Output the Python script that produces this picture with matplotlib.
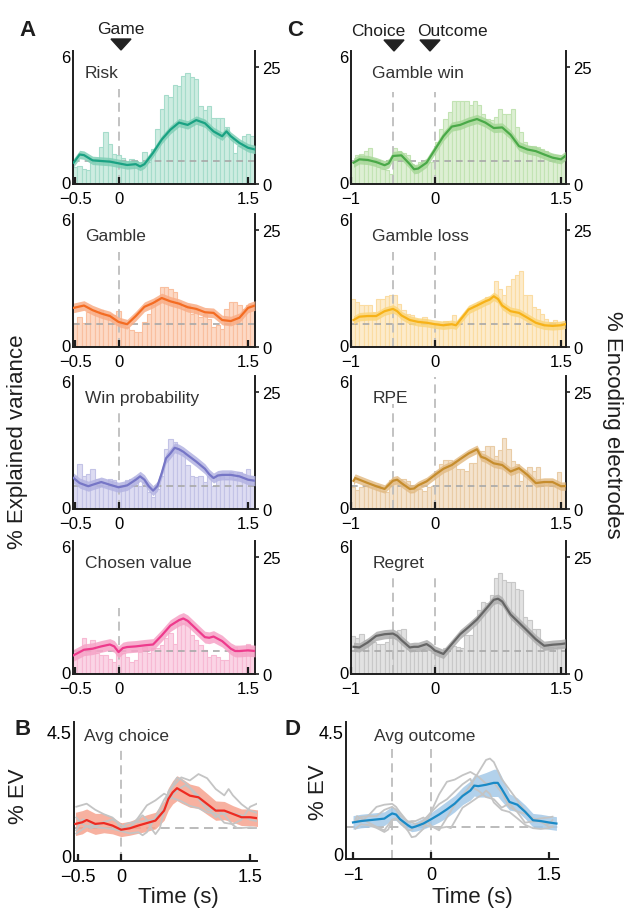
import numpy as np
import matplotlib.pyplot as plt
from matplotlib.patches import Polygon

plt.rcParams['font.family'] = ['Liberation Sans', 'DejaVu Sans']

W, H = 626, 912

# bin centres (s) of the electrode histograms
bins_a = np.round(-0.5 + 0.05 * np.arange(42), 3)
bins_c = np.round(-0.975 + 0.05 * np.arange(51), 3)

# ---- A: game-locked ----
risk_pct = [3.6, 3.9, 3.2, 3.0, 4.6, 5.3, 7.8, 11.0, 8.5, 6.4, 6.1, 5.5, 5.0, 5.3, 5.0, 4.8, 6.9, 4.6, 7.5, 11.8,
            16.0, 18.9, 18.5, 21.2, 21.0, 23.0, 23.7, 22.8, 22.4, 16.7, 15.7, 16.7, 14.2, 14.2, 14.0, 12.1, 9.6, 6.6,
            8.2, 10.3, 10.7, 10.3]
risk_t = [-0.52, -0.45, -0.4, -0.3, -0.2, -0.1, 0, 0.1, 0.2, 0.25, 0.3, 0.4, 0.5, 0.6, 0.7, 0.8, 0.9, 1.0, 1.1,
          1.2, 1.25, 1.3, 1.4, 1.5, 1.58]
risk_ev = [0.92, 1.31, 1.28, 1.03, 1.0, 0.97, 0.89, 0.81, 0.85, 0.74, 0.85, 1.39, 2.02, 2.49, 2.83, 2.72, 2.95,
           2.80, 2.41, 2.18, 2.41, 2.18, 1.86, 1.63, 1.55]

gamble_pct = [5.2, 6.4, 5.2, 7.5, 7.8, 7.5, 7.8, 6.8, 7.1, 6.8, 7.6, 4.6, 4.3, 3.6, 3.2, 3.2, 5.3, 7.1, 8.9, 10.3,
              12.8, 12.8, 12.4, 11.7, 9.6, 8.2, 8.9, 7.1, 7.8, 6.4, 7.1, 6.0, 4.3, 4.6, 3.9, 8.2, 9.6, 9.6, 8.9,
              8.2, 8.9, 9.2]
gamble_t = [-0.52, -0.4, -0.3, -0.2, -0.1, 0, 0.1, 0.2, 0.3, 0.4, 0.5, 0.6, 0.7, 0.8, 0.9, 1.0, 1.1, 1.2, 1.3,
            1.4, 1.5, 1.58]
gamble_ev = [1.77, 1.88, 1.66, 1.50, 1.38, 1.10, 0.99, 1.38, 1.82, 2.00, 2.24, 2.08, 1.97, 1.80, 1.72, 1.56, 1.53,
             1.19, 1.14, 1.30, 1.77, 1.88]

winp_pct = [7.1, 9.6, 7.1, 7.5, 8.6, 6.4, 5.7, 5.0, 6.4, 6.1, 5.0, 4.6, 6.1, 6.4, 6.8, 5.0, 5.7, 3.6, 2.5, 4.3,
            7.1, 12.9, 15.0, 14.3, 12.9, 11.8, 9.3, 7.1, 6.8, 7.1, 5.7, 7.1, 5.0, 7.5, 7.1, 6.4, 7.9, 6.4, 7.9,
            7.5, 8.6, 7.1]
winp_t = [-0.52, -0.45, -0.35, -0.3, -0.2, -0.1, 0, 0.1, 0.2, 0.25, 0.3, 0.35, 0.4, 0.45, 0.5, 0.55, 0.6, 0.65,
          0.7, 0.75, 0.8, 0.9, 1.0, 1.05, 1.1, 1.15, 1.2, 1.3, 1.4, 1.5, 1.58]
winp_ev = [1.38, 1.14, 0.99, 1.06, 1.19, 1.06, 0.94, 1.03, 1.30, 1.46, 1.30, 0.99, 0.78, 0.99, 1.61, 2.32, 2.55,
           2.82, 2.75, 2.63, 2.47, 2.16, 1.82, 1.56, 1.38, 1.50, 1.53, 1.53, 1.46, 1.30, 1.25]

chosen_pct = [4.1, 4.8, 7.6, 5.5, 7.2, 4.4, 4.1, 4.1, 3.3, 2.6, 5.5, 4.4, 3.7, 2.6, 3.0, 4.8, 5.8, 4.4, 5.5, 5.5,
              6.2, 7.6, 8.7, 6.5, 11.5, 10.8, 11.5, 8.3, 7.2, 6.2, 5.1, 3.7, 4.1, 3.7, 3.0, 3.0, 4.8, 5.8, 4.8,
              4.4, 6.5, 5.8]
chosen_t = [-0.52, -0.45, -0.4, -0.3, -0.2, -0.1, -0.05, 0, 0.05, 0.1, 0.2, 0.3, 0.4, 0.5, 0.6, 0.7, 0.75, 0.8,
            0.9, 1.0, 1.05, 1.1, 1.2, 1.3, 1.35, 1.4, 1.5, 1.58]
chosen_ev = [0.80, 0.95, 1.06, 1.11, 1.22, 1.31, 1.22, 0.95, 1.14, 1.19, 1.22, 1.27, 1.31, 1.74, 2.21, 2.47, 2.55,
             2.44, 2.05, 1.66, 1.63, 1.69, 1.47, 1.11, 1.00, 1.00, 1.03, 1.00]

# ---- C: choice / outcome-locked ----
gwin_pct = [4.6, 6.1, 6.4, 7.1, 7.6, 5.4, 3.6, 3.2, 2.9, 2.1, 7.6, 7.1, 6.6, 6.1, 4.3, 3.9, 4.6, 4.3, 4.6, 4.6,
            8.9, 11.8, 13.9, 15.4, 17.7, 17.7, 17.7, 17.7, 16.8, 17.7, 16.8, 15.0, 13.9, 13.6, 14.3, 16.1, 15.0,
            15.0, 16.1, 12.1, 11.1, 8.9, 8.2, 8.2, 7.9, 7.5, 7.1, 6.4, 6.1, 6.1, 5.7]
gwin_t = [-0.97, -0.9, -0.8, -0.7, -0.6, -0.55, -0.5, -0.4, -0.3, -0.25, -0.2, -0.1, 0, 0.1, 0.2, 0.3, 0.4, 0.5,
          0.6, 0.7, 0.8, 0.9, 1.0, 1.1, 1.2, 1.3, 1.4, 1.5, 1.55]
gwin_ev = [0.92, 1.08, 1.05, 0.95, 0.80, 0.89, 1.24, 1.27, 0.85, 0.61, 0.64, 0.92, 1.55, 2.18, 2.64, 2.72, 2.88,
           3.00, 2.83, 2.57, 2.60, 2.25, 1.71, 1.55, 1.47, 1.31, 1.16, 1.08, 1.24]

gloss_pct = [10.2, 9.6, 8.9, 9.0, 8.9, 7.5, 10.3, 10.3, 10.9, 11.0, 11.0, 9.2, 7.8, 7.1, 6.8, 6.0, 5.7, 6.4, 5.3,
             5.0, 5.2, 5.0, 5.5, 5.2, 6.9, 5.0, 6.4, 7.1, 8.2, 8.9, 9.6, 9.9, 10.7, 10.3, 14.2, 12.4, 11.0, 13.1,
             14.6, 15.3, 16.3, 11.0, 11.0, 8.5, 8.2, 7.1, 6.0, 5.3, 5.7, 5.0, 5.2]
gloss_t = [-0.97, -0.9, -0.8, -0.7, -0.6, -0.5, -0.45, -0.4, -0.3, -0.2, -0.1, 0, 0.1, 0.2, 0.25, 0.3, 0.4, 0.5,
           0.6, 0.65, 0.7, 0.75, 0.8, 0.9, 1.0, 1.1, 1.2, 1.3, 1.4, 1.5, 1.55]
gloss_ev = [1.19, 1.35, 1.38, 1.38, 1.61, 1.72, 1.61, 1.41, 1.19, 1.10, 1.06, 0.99, 0.94, 0.99, 0.94, 1.19, 1.69,
            1.88, 2.08, 2.16, 2.32, 2.19, 1.88, 1.61, 1.53, 1.30, 1.06, 0.94, 0.91, 0.94, 0.99]

rpe_pct = [4.6, 4.1, 4.8, 5.0, 4.8, 4.8, 4.6, 3.8, 3.6, 6.2, 6.4, 6.2, 6.4, 6.0, 3.6, 4.3, 4.3, 3.9, 4.8, 5.0,
           8.2, 9.6, 10.4, 10.4, 10.2, 8.5, 8.5, 8.2, 9.9, 9.9, 12.4, 12.4, 13.5, 13.5, 11.4, 12.6, 15.1, 12.8,
           10.3, 9.6, 6.0, 7.5, 8.9, 8.2, 8.9, 6.0, 5.2, 5.5, 5.2, 7.8, 5.2]
rpe_t = [-0.97, -0.95, -0.9, -0.8, -0.7, -0.6, -0.55, -0.5, -0.45, -0.4, -0.3, -0.25, -0.2, -0.1, 0, 0.1, 0.2,
         0.3, 0.4, 0.5, 0.55, 0.6, 0.7, 0.8, 0.9, 1.0, 1.1, 1.2, 1.3, 1.4, 1.5, 1.55]
rpe_ev = [1.25, 1.38, 1.30, 1.14, 0.99, 0.86, 1.06, 1.25, 1.30, 1.14, 0.86, 0.88, 1.03, 1.22, 1.53, 1.82, 2.00,
          2.28, 2.55, 2.75, 2.39, 2.32, 2.08, 2.00, 1.69, 1.85, 1.53, 1.14, 1.19, 1.19, 0.99, 1.0]

regret_pct = [8.1, 7.6, 8.5, 7.2, 7.1, 6.9, 6.5, 6.4, 6.9, 8.3, 8.1, 9.4, 9.7, 5.5, 5.1, 5.0, 5.0, 5.3, 5.1, 4.5,
              4.4, 4.4, 5.5, 5.5, 6.0, 5.8, 5.5, 8.3, 8.3, 11.5, 13.6, 15.4, 15.2, 16.8, 20.6, 21.6, 20.0, 19.6,
              19.6, 18.2, 17.9, 12.2, 11.5, 9.7, 9.7, 5.8, 6.0, 5.7, 5.5, 5.8, 5.8]
regret_t = [-0.97, -0.9, -0.8, -0.7, -0.6, -0.5, -0.45, -0.4, -0.3, -0.25, -0.2, -0.1, -0.05, 0, 0.1, 0.2, 0.3,
            0.4, 0.5, 0.6, 0.7, 0.75, 0.8, 0.9, 1.0, 1.1, 1.2, 1.3, 1.4, 1.5, 1.55]
regret_ev = [1.20, 1.17, 1.41, 1.72, 1.80, 1.83, 1.72, 1.52, 1.17, 1.20, 1.20, 1.33, 1.20, 1.02, 0.86, 1.33, 1.80,
             2.14, 2.50, 2.97, 3.44, 3.49, 3.36, 2.74, 2.35, 1.96, 1.56, 1.25, 1.30, 1.33, 1.36]

# ---- B / D: averages ----
avgc_t = [-0.53, -0.45, -0.4, -0.3, -0.2, -0.1, 0, 0.1, 0.2, 0.3, 0.4, 0.5, 0.55, 0.6, 0.65, 0.7, 0.8, 0.9, 1.0,
          1.1, 1.2, 1.3, 1.4, 1.5, 1.6]
avgc_ev = [1.15, 1.21, 1.29, 1.15, 1.18, 1.09, 0.94, 0.99, 1.09, 1.18, 1.27, 1.63, 2.05, 2.29, 2.44, 2.35, 2.17,
           2.11, 1.87, 1.63, 1.63, 1.51, 1.39, 1.39, 1.35]
avgc_err = [0.42, 0.42, 0.4, 0.38, 0.35, 0.3, 0.25, 0.25, 0.28, 0.3, 0.3, 0.35, 0.4, 0.42, 0.45, 0.45, 0.42, 0.4,
            0.38, 0.35, 0.33, 0.3, 0.3, 0.3, 0.3]

avgo_t = [-1.0, -0.9, -0.8, -0.7, -0.6, -0.55, -0.5, -0.45, -0.4, -0.3, -0.25, -0.2, -0.1, 0, 0.1, 0.2, 0.3, 0.4,
          0.5, 0.55, 0.6, 0.7, 0.8, 0.85, 0.9, 1.0, 1.1, 1.2, 1.3, 1.4, 1.5, 1.6]
avgo_ev = [1.15, 1.20, 1.23, 1.26, 1.29, 1.39, 1.48, 1.44, 1.27, 1.05, 0.96, 1.00, 1.11, 1.27, 1.44, 1.63, 1.84,
           2.12, 2.32, 2.50, 2.48, 2.53, 2.60, 2.60, 2.38, 1.90, 1.80, 1.54, 1.23, 1.20, 1.15, 1.11]
avgo_err = [0.25, 0.25, 0.25, 0.25, 0.25, 0.25, 0.25, 0.22, 0.2, 0.17, 0.15, 0.17, 0.2, 0.25, 0.28, 0.3, 0.3,
            0.32, 0.35, 0.38, 0.4, 0.45, 0.5, 0.5, 0.45, 0.3, 0.25, 0.25, 0.25, 0.25, 0.25, 0.25]

# name, bars, line t, line ev, band half width, line/band/bar face/bar edge colours, dashed top
panels_a = [
    ('Risk', risk_pct, risk_t, risk_ev, 0.2, '#1aa283', '#80cfb6', '#cdece1', '#a6dccb', 4.45),
    ('Gamble', gamble_pct, gamble_t, gamble_ev, 0.23, '#f46c22', '#f9ad86', '#fdd9c5', '#f9bf9f', 4.45),
    ('Win probability', winp_pct, winp_t, winp_ev, 0.24, '#7676c6', '#b3b3e2', '#dddcf2', '#c3c3e6', 4.5),
    ('Chosen value', chosen_pct, chosen_t, chosen_ev, 0.28, '#ee3a8c', '#f6a3c7', '#fbd4e5', '#f7b9d3', 3.05),
]
panels_c = [
    ('Gamble win', gwin_pct, gwin_t, gwin_ev, 0.22, '#4aa948', '#a7d898', '#ddefd3', '#c2e3b3', (4.3, 4.3)),
    ('Gamble loss', gloss_pct, gloss_t, gloss_ev, 0.2, '#f7b218', '#fbd57a', '#fdebcb', '#fbdca2', (4.45, 4.45)),
    ('RPE', rpe_pct, rpe_t, rpe_ev, 0.2, '#c68d2e', '#e3bc86', '#f4e3cd', '#e9cca6', (4.9, 6.2)),
    ('Regret', regret_pct, regret_t, regret_ev, 0.22, '#666666', '#adadad', '#e2e2e2', '#c8c8c8', (4.65, 4.65)),
]

INK = '#1e1e1e'
DASH = '#bdbdbd'

fig = plt.figure(figsize=(W / 100, H / 100), dpi=100)


def px_axes(left, top, right, bottom):
    return fig.add_axes([left / W, 1 - bottom / H, (right - left) / W, (bottom - top) / H])


def style_axes(ax, xlim, ylim, xticks, yticks, yfmt, fs):
    ax.set_xlim(*xlim)
    ax.set_ylim(*ylim)
    ax.set_xticks(xticks)
    ax.set_xticklabels([('%g' % v).replace('-', '\u2212') for v in xticks])
    ax.set_yticks(yticks)
    ax.set_yticklabels(yfmt)
    ax.tick_params(axis='x', direction='in', length=5, width=1.6, pad=5, labelsize=fs, color=INK)
    ax.tick_params(axis='y', length=0, pad=2, labelsize=fs)
    for s in ('top', 'right'):
        ax.spines[s].set_visible(False)
    for s in ('left', 'bottom'):
        ax.spines[s].set_linewidth(1.4)
        ax.spines[s].set_color(INK)


def enc_panel(ax, bins, spec, xlim, xticks, vlines, label_x):
    name, pct, t, ev, err, c_line, c_band, c_face, c_edge, vtop = spec
    ax2 = ax.twinx()
    ax2.bar(bins, pct, width=0.05, color=c_face, edgecolor=c_edge, linewidth=0.8)
    ax2.axhline(5, color='#a8a8a8', lw=1.2, ls=(0, (4, 3)))
    ax2.set_ylim(0, 28.4)
    ax2.set_yticks([0, 25])
    ax2.tick_params(axis='y', direction='out', length=3, width=1.2, pad=2, labelsize=12, color=INK)
    for s in ('top', 'left', 'bottom'):
        ax2.spines[s].set_visible(False)
    ax2.spines['right'].set_linewidth(1.4)
    ax2.spines['right'].set_color(INK)
    ax.set_zorder(ax2.get_zorder() + 1)
    ax.patch.set_visible(False)

    tops = vtop if isinstance(vtop, tuple) else (vtop,)
    for v, top in zip(vlines, tops):
        ax.plot([v, v], [-0.1, top], color=DASH, lw=1.3, ls=(0, (5, 3)), zorder=1)
    ev = np.array(ev)
    ax.fill_between(t, ev - err, ev + err, color=c_band, alpha=0.85, lw=0, zorder=2)
    ax.plot(t, ev, color=c_line, lw=1.6, zorder=3)
    ax.text(label_x, 0.84, name, transform=ax.transAxes, fontsize=12.5, color='#333333', va='center')
    style_axes(ax, xlim, (-0.095, 6.24), xticks, [0, 6], ['0', '6'], 12)


row_bottoms = [185, 348, 510, 675]
for spec, b in zip(panels_a, row_bottoms):
    ax = px_axes(73, b - 133, 255, b)
    enc_panel(ax, bins_a, spec, (-0.527, 1.58), [-0.5, 0, 1.5], [0], 0.065)
for spec, b in zip(panels_c, row_bottoms):
    ax = px_axes(351, b - 133, 566, b)
    enc_panel(ax, bins_c, spec, (-0.99, 1.56), [-1, 0, 1.5], [-0.5, 0], 0.10)


def avg_panel(ax, t, ev, err, greys, c_line, c_band, xlim, xticks, vlines, name, label_x):
    ax.axhline(1.0, color='#b5b5b5', lw=1.3, ls=(0, (5, 3)), zorder=1)
    for v in vlines:
        ax.plot([v, v], [-0.2, 3.85], color=DASH, lw=1.3, ls=(0, (5, 3)), zorder=1)
    ev = np.array(ev)
    err = np.array(err)
    ax.fill_between(t, ev - err, ev + err, color=c_band, alpha=0.85, lw=0, zorder=2)
    for gt, gv in greys:
        ax.plot(gt, gv, color='#c4c4c4', lw=1.3, zorder=3)
    ax.plot(t, ev, color=c_line, lw=1.6, zorder=4)
    ax.text(label_x, 0.9, name, transform=ax.transAxes, fontsize=12.5, color='#333333', va='center')
    style_axes(ax, xlim, (-0.19, 4.83), xticks, [0, 4.5], ['0', '4.5'], 13)


axb = px_axes(74, 723, 257, 862)
avg_panel(axb, avgc_t, avgc_ev, avgc_err,
          [(s[2], s[3]) for s in panels_a], '#ee2b22', '#f6a48f',
          (-0.547, 1.58), [-0.5, 0, 1.5], [0], 'Avg choice', 0.055)
axd = px_axes(346, 723, 558, 860)
avg_panel(axd, avgo_t, avgo_ev, avgo_err,
          [(s[2], s[3]) for s in panels_c], '#1a8ac6', '#a5c9e8',
          (-1.09, 1.62), [-1, 0, 1.5], [-0.5, 0], 'Avg outcome', 0.13)


def ftext(x, y, s, **kw):
    fig.text(x / W, 1 - y / H, s, ha='center', va='center', color=INK, **kw)


def tri(x, y):
    pts = [((x - 10) / W, 1 - y / H), ((x + 10) / W, 1 - y / H), (x / W, 1 - (y + 11) / H)]
    fig.add_artist(Polygon(pts, closed=True, transform=fig.transFigure, color='#222222'))


ftext(27, 30, 'A', fontsize=16, fontweight='bold')
ftext(295, 30, 'C', fontsize=16, fontweight='bold')
ftext(23, 730, 'B', fontsize=16, fontweight='bold')
ftext(293, 730, 'D', fontsize=16, fontweight='bold')

ftext(121, 30, 'Game', fontsize=12.5)
tri(121, 40)
ftext(378, 31, 'Choice', fontsize=12.5)
tri(394, 41)
ftext(452, 31, 'Outcome', fontsize=12.5)
tri(430, 41)

ftext(18, 442, '% Explained variance', fontsize=16, rotation=90)
ftext(612, 425, '% Encoding electrodes', fontsize=16, rotation=270)
ftext(18, 796, '% EV', fontsize=16, rotation=90)
ftext(318, 792, '% EV', fontsize=16, rotation=90)
ftext(178, 898, 'Time (s)', fontsize=16)
ftext(472, 898, 'Time (s)', fontsize=16)

fig.savefig('out.png', dpi=100)
